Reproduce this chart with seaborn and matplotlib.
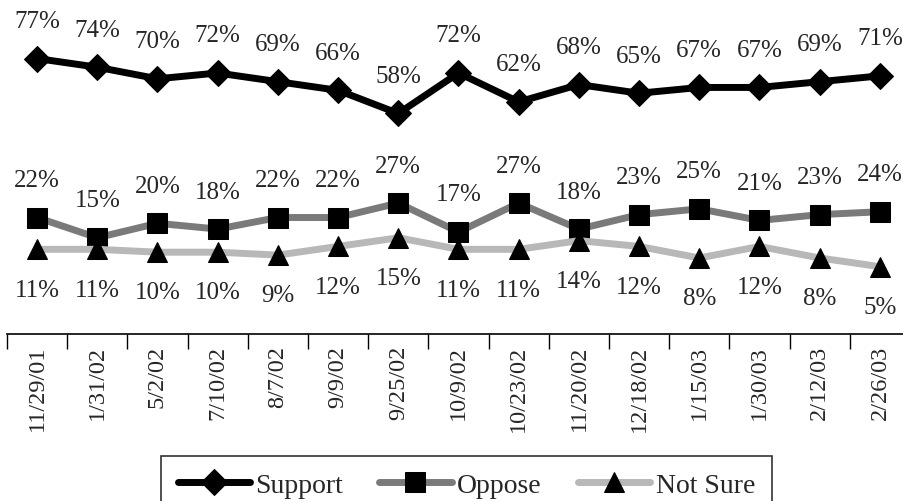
import numpy as np
import pandas as pd
import seaborn as sns
import matplotlib.pyplot as plt

dates = ['11/29/01', '1/31/02', '5/2/02', '7/10/02', '8/7/02', '9/9/02', '9/25/02',
         '10/9/02', '10/23/02', '11/20/02', '12/18/02', '1/15/03', '1/30/03',
         '2/12/03', '2/26/03']
support = [77, 74, 70, 72, 69, 66, 58, 72, 62, 68, 65, 67, 67, 69, 71]
oppose = [22, 15, 20, 18, 22, 22, 27, 17, 27, 18, 23, 25, 21, 23, 24]
not_sure = [11, 11, 10, 10, 9, 12, 15, 11, 11, 14, 12, 8, 12, 8, 5]

sns.set_style('white')
plt.rcParams['font.family'] = ['Liberation Serif', 'DejaVu Serif']

fig = plt.figure(figsize=(9.04, 5.02), dpi=100)
# plot area: x from 7px to ~910px, bottom axis line at 335px
ax = fig.add_axes([7 / 904, 1 - 335 / 502, 903 / 904, 335 / 502])

x = np.arange(len(dates))
series = [
    ('Support', support, 'black', 'D', 13, 'above'),
    ('Oppose', oppose, '#7a7a7a', 's', 14, 'above'),
    ('Not Sure', not_sure, '#b8b8b8', '^', 15, 'below'),
]
for name, vals, col, mk, ms, pos in series:
    sns.lineplot(x=x, y=vals, ax=ax, color=col, lw=5, marker=mk, markersize=ms,
                 markerfacecolor='black', markeredgecolor='black', label=name)
    for xi, v in zip(x, vals):
        off = 27 if pos == 'above' else -29
        ax.annotate(f'{v}%', (xi, v), xytext=(0, off), textcoords='offset points',
                    ha='center', va='center', fontsize=18)

ax.set_xlim(-0.5, len(dates) - 0.5)
ax.set_ylim(-18.3, 97.6)
ax.set_yticks([])
ax.set_xticks(x)
ax.set_xticklabels(dates, rotation=90, fontsize=17.5)
ax.set_xticks(np.arange(-0.5, len(dates), 1), minor=True)
ax.tick_params(axis='x', which='major', length=0, pad=8)
ax.tick_params(axis='x', which='minor', length=11, width=1, direction='out', color='black', bottom=True)
for s in ['top', 'left', 'right']:
    ax.spines[s].set_visible(False)
ax.spines['bottom'].set_color('black')
ax.spines['bottom'].set_linewidth(1.2)

ax.get_legend().remove()
handles, labels = ax.get_legend_handles_labels()
leg = fig.legend(handles, labels, loc='upper left', bbox_to_anchor=(161 / 904, 1 - 457 / 502),
                 ncol=3, fontsize=20, frameon=True, fancybox=False, edgecolor='black',
                 handlelength=2.6, columnspacing=1.3, handletextpad=0.2, borderpad=0.6,
                 borderaxespad=0)
leg.get_frame().set_linewidth(1.2)

fig.savefig('out.png', dpi=100)
